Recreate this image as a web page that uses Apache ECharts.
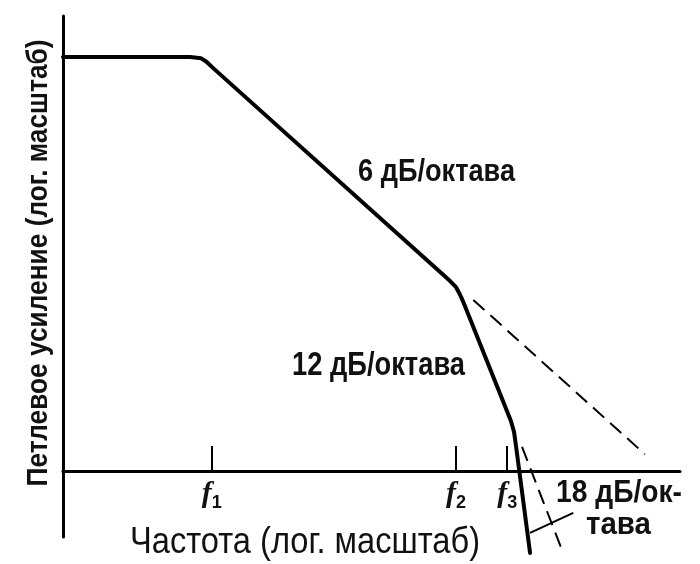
<!DOCTYPE html>
<html>
<head>
<meta charset="utf-8">
<script src="https://cdn.jsdelivr.net/npm/echarts@6/dist/echarts.min.js"></script>
<style>
html,body{margin:0;padding:0;background:#fff;}
#chart{width:700px;height:564px;}
</style>
</head>
<body>
<div id="chart"></div>
<script>
// ---- data (arbitrary log units) ----
const xRange = [0, 100];
const yRange = [-14.5, 100];
// loop gain curve: flat, 6 dB/oct, 12 dB/oct, 18 dB/oct
const gainCurve = [
  [0, 91.0], [20.6, 91.0], [22.4, 90.7], [23.3, 89.9], [24.3, 88.6],
  [62.7, 41.8], [63.7, 40.4], [64.3, 38.9], [64.8, 37.4],
  [72.6, 11.0], [73.1, 8.6], [73.4, 5.7], [75.7, -18.0]
];
// dashed extension of 6 dB/octave slope
const ext6dB = [[66.5, 37.6], [94.3, 3.7]];
// dashed extension of 12 dB/octave slope
const ext12dB = [[74.4, 5.3], [81.0, -17.8]];
// leader line for the 18 dB label
const leader18 = [[75.7, -13.6], [82.7, -9.2]];
// break frequencies on the axis
const breakFreqs = [24.1, 63.7, 72.0];
const breakLabels = ['1', '2', '3'];
// text
const slopeLabels = ['6 дБ/октава', '12 дБ/октава', '18 дБ/ок-', 'тава'];
const xTitle = 'Частота (лог. масштаб)';
const yTitle = 'Петлевое усиление (лог. масштаб)';

// ---- layout ----
const W = 700, H = 564;
const G = {left: 63, right: 20, top: 16, bottom: 27};
const gridH = H - G.top - G.bottom;
// move the frequency axis up to the zero level of the gain axis
const zeroOffset = gridH * (0 - yRange[0]) / (yRange[1] - yRange[0]);

const FONT = '"Liberation Sans", Arial, sans-serif';
const ctx = document.createElement('canvas').getContext('2d');
function fitText(text, left, cy, width, size, weight, rotate) {
  ctx.font = weight + ' ' + size + 'px ' + FONT;
  const w = ctx.measureText(text).width;
  const el = {
    type: 'text',
    x: left, y: cy,
    scaleX: width / w,
    style: {
      text: text, fontSize: size, fontFamily: FONT, fontWeight: weight, fill: '#111',
      align: rotate ? 'center' : 'left', verticalAlign: 'middle'
    },
    z: 10
  };
  if (rotate) el.rotation = Math.PI / 2;
  return el;
}

const chart = echarts.init(document.getElementById('chart'), null, {renderer: 'canvas'});
const option = {
  backgroundColor: '#fff',
  animation: false,
  grid: {left: G.left, right: G.right, top: G.top, bottom: G.bottom,
    containLabel: false, outerBoundsMode: 'none'},
  xAxis: {
    type: 'value', min: xRange[0], max: xRange[1],
    position: 'bottom', offset: -zeroOffset,
    axisLine: {show: true, onZero: false, lineStyle: {color: '#000', width: 3}},
    axisTick: {show: true, inside: true, length: 25, customValues: breakFreqs,
      lineStyle: {color: '#000', width: 2}},
    axisLabel: {
      show: true, margin: 6, customValues: breakFreqs,
      formatter: function (v) {
        let i = 0, best = 1e9;
        breakFreqs.forEach((f, k) => { if (Math.abs(f - v) < best) { best = Math.abs(f - v); i = k; } });
        return '{f|f}{s|' + breakLabels[i] + '}';
      },
      rich: {
        f: {fontSize: 30, lineHeight: 28, fontStyle: 'italic', fontWeight: 'bold', fontFamily: '"Liberation Serif", serif', color: '#111'},
        s: {fontSize: 18, fontWeight: 'bold', fontFamily: FONT, color: '#111', padding: [17, 0, 0, 0]}
      }
    },
    splitLine: {show: false}
  },
  yAxis: {
    type: 'value', min: yRange[0], max: yRange[1],
    axisLine: {show: true, onZero: false, lineStyle: {color: '#000', width: 3}},
    axisTick: {show: false}, axisLabel: {show: false}, splitLine: {show: false}
  },
  series: [
    {type: 'line', data: gainCurve, symbol: 'none', clip: false,
      lineStyle: {color: '#000', width: 4, join: 'round', cap: 'round'}},
    {type: 'line', data: ext6dB, symbol: 'none', clip: false,
      lineStyle: {color: '#000', width: 2, type: [15, 8]}},
    {type: 'line', data: ext12dB, symbol: 'none', clip: false,
      lineStyle: {color: '#000', width: 2, type: [15, 8]}},
    {type: 'line', data: leader18, symbol: 'none', clip: false,
      lineStyle: {color: '#000', width: 2}}
  ],
  graphic: [
    fitText(slopeLabels[0], 358, 172, 157, 32, 'bold'),
    fitText(slopeLabels[1], 292, 366, 173, 33, 'bold'),
    fitText(slopeLabels[2], 556, 493, 126, 32, 'bold'),
    fitText(slopeLabels[3], 586, 525, 65, 32, 'bold'),
    fitText(xTitle, 130, 543, 350, 36, 'normal'),
    fitText(yTitle, 39, 263, 447, 30, 'bold', true)
  ]
};
chart.setOption(option);
</script>
</body>
</html>
